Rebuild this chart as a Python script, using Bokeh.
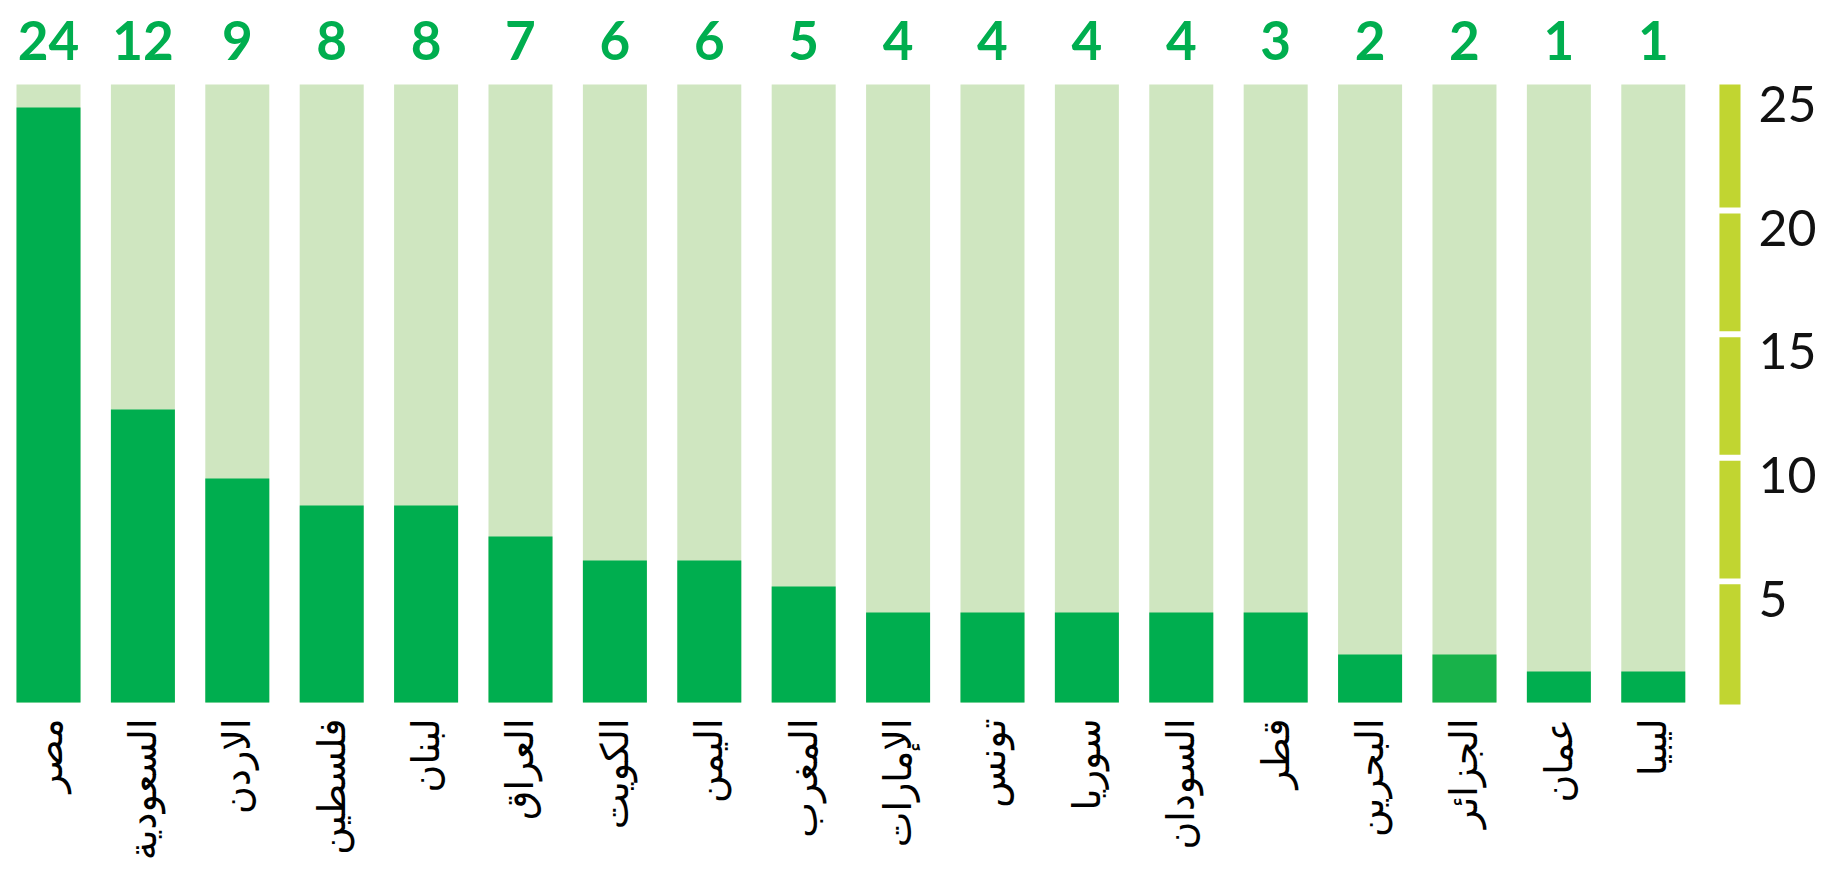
import math
from bokeh.plotting import figure
from bokeh.models import Range1d, LinearAxis, FixedTicker, ColumnDataSource
from bokeh.core.properties import value
from bokeh.embed import file_html
from bokeh.resources import INLINE

# ---- data ----
countries = ["مصر", "السعودية", "الاردن", "فلسطين", "لبنان", "العراق", "الكويت",
             "اليمن", "المغرب", "الإمارات", "تونس", "سوريا", "السودان", "قطر",
             "البحرين", "الجزائر", "عمان", "ليبيا"]
counts = [24, 12, 9, 8, 8, 7, 6, 6, 5, 4, 4, 4, 4, 3, 2, 2, 1, 1]
bar_heights = [24.07, 11.85, 9.06, 7.97, 7.97, 6.72, 5.74, 5.74, 4.69, 3.64,
               3.64, 3.64, 3.64, 3.64, 1.94, 1.94, 1.25, 1.25]
scale_max = 25
scale_ticks = [5, 10, 15, 20, 25]

DARK = "#00AE4F"
DARK2 = "#18B24A"
LIGHT = "#CFE6C0"
SEG = "#C1D531"

n = len(countries)
xs = list(range(n))
colors = [DARK2 if c == "الجزائر" else DARK for c in countries]

src = ColumnDataSource(dict(
    x=xs, top=bar_heights, full=[scale_max] * n, zero=[0] * n,
    color=colors, label=[str(c) for c in counts], country=countries,
))

y0, y1 = -7.565, 28.398
p = figure(width=1823, height=889, output_backend="svg", toolbar_location=None,
           x_range=Range1d(-0.5085, 17.977), y_range=Range1d(y0, y1),
           min_border_left=0, min_border_top=0, min_border_bottom=0,
           min_border_right=78)
p.xaxis.visible = False
p.yaxis.visible = False
p.xgrid.visible = False
p.ygrid.visible = False
p.outline_line_color = None
p.background_fill_color = "white"
p.border_fill_color = "white"

bw = 0.678
p.vbar(x="x", bottom="zero", top="full", width=bw, source=src,
       fill_color=LIGHT, line_color=None)
p.vbar(x="x", bottom="zero", top="top", width=bw, source=src,
       fill_color="color", line_color=None)

p.text(x="x", y="full", text="label", source=src, y_offset=-44,
       text_align="center", text_baseline="alphabetic",
       text_font=value("Lato"), text_font_style="bold", text_font_size="53px",
       text_color=DARK)

p.text(x="x", y="zero", text="country", source=src, y_offset=16,
       angle=math.pi / 2, text_align="right", text_baseline="middle",
       text_font=value("DejaVu Sans"), text_font_size="38px", text_color="#000000")

# segmented scale bar on the right
seg_bottom = [5 * k + 0.02 for k in range(5)]
seg_top = [5 * k + 5 - 0.22 for k in range(5)]
seg_bottom[0] = -0.08
seg_top[-1] = scale_max
p.quad(left=17.701, right=17.924, bottom=seg_bottom, top=seg_top,
       fill_color=SEG, line_color=None)

off = 0.8
p.extra_y_ranges = {"lbl": Range1d(y0 + off, y1 + off)}
ax = LinearAxis(y_range_name="lbl", ticker=FixedTicker(ticks=scale_ticks))
ax.axis_line_color = None
ax.major_tick_line_color = None
ax.minor_tick_line_color = None
ax.major_tick_out = 0
ax.major_tick_in = 0
ax.major_label_standoff = 13
ax.major_label_text_font = "Lato"
ax.major_label_text_font_size = "50px"
ax.major_label_text_color = "#111111"
p.add_layout(ax, "right")

open("out.html", "w").write(file_html(p, INLINE))
